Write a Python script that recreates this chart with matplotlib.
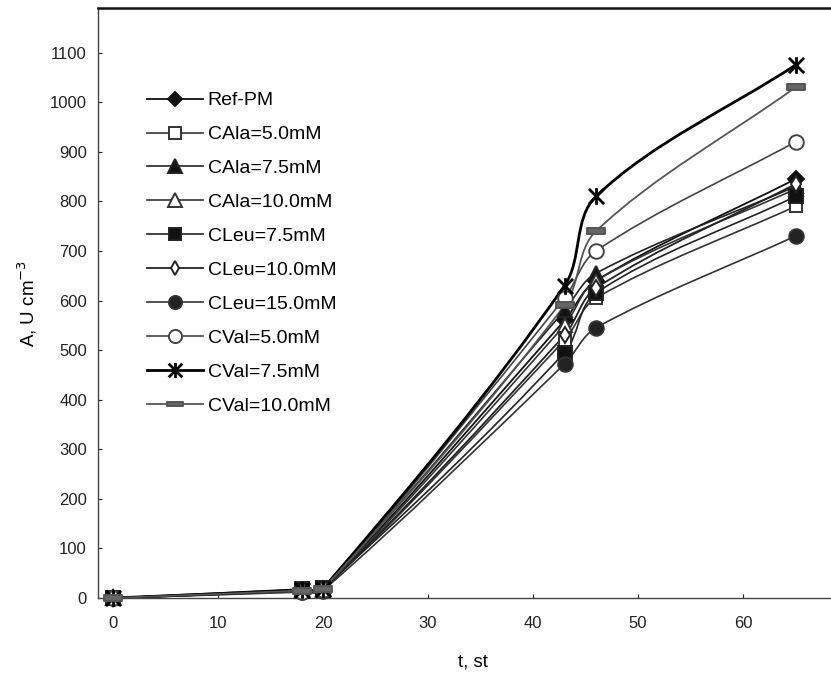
import numpy as np
import matplotlib
matplotlib.use("Agg")
import matplotlib.pyplot as plt
from matplotlib.path import Path
from matplotlib.patches import PathPatch
from matplotlib.lines import Line2D

plt.rcParams['font.family'] = ['Liberation Sans', 'DejaVu Sans']

t = [0, 18, 20, 43, 46, 65]
labels = ["Ref-PM", "CAla=5.0mM", "CAla=7.5mM", "CAla=10.0mM", "CLeu=7.5mM",
          "CLeu=10.0mM", "CLeu=15.0mM", "CVal=5.0mM", "CVal=7.5mM", "CVal=10.0mM"]
ref_pm   = [0, 15, 18, 560, 640, 845]
cala_5   = [0, 14, 16, 520, 605, 790]
cala_75  = [0, 16, 19, 580, 655, 830]
cala_10  = [0, 15, 17, 550, 640, 825]
cleu_75  = [0, 18, 20, 495, 615, 810]
cleu_10  = [0, 14, 17, 530, 625, 835]
cleu_15  = [0, 12, 15, 472, 545, 730]
cval_5   = [0, 13, 16, 605, 700, 920]
cval_75  = [0, 16, 19, 630, 810, 1075]
cval_10  = [0, 15, 18, 590, 740, 1030]
series = [ref_pm, cala_5, cala_75, cala_10, cleu_75, cleu_10, cleu_15, cval_5, cval_75, cval_10]

star = Path([(-1, -1), (1, 1), (-1, 1), (1, -1), (0, -1.1), (0, 1.1)],
            [Path.MOVETO, Path.LINETO, Path.MOVETO, Path.LINETO, Path.MOVETO, Path.LINETO])
dash = Path([(-1, -0.3), (1, -0.3), (1, 0.3), (-1, 0.3), (-1, -0.3)],
            [Path.MOVETO, Path.LINETO, Path.LINETO, Path.LINETO, Path.CLOSEPOLY])

styles = [
    dict(color='#111111', marker='D', mfc='#111111', ms=8, lw=1.3),
    dict(color='#333333', marker='s', mfc='white', ms=9, lw=1.2),
    dict(color='#222222', marker='^', mfc='#111111', ms=10.5, lw=1.2),
    dict(color='#333333', marker='^', mfc='white', ms=10.5, lw=1.2),
    dict(color='#222222', marker='s', mfc='#111111', ms=10, lw=1.2),
    dict(color='#222222', marker='d', mfc='white', ms=8, lw=1.3),
    dict(color='#333333', marker='o', mfc='#222222', ms=10.5, lw=1.2),
    dict(color='#444444', marker='o', mfc='white', ms=10.5, lw=1.2),
    dict(color='#000000', marker=star, mfc='none', ms=12, lw=2.0),
    dict(color='#555555', marker=dash, mfc='#666666', ms=13, lw=1.3),
]

fig = plt.figure(figsize=(8.31, 6.81), dpi=100)
ax = fig.add_axes([98/831, 1-598/681, (848-98)/831, (598-8)/681])
ax.set_xlim(-1.43, 70)
ax.set_ylim(0, 1190)

def smooth_path(x, y):
    pts = ax.transData.transform(np.column_stack([x, y]))
    n = len(pts)
    verts = [pts[0]]
    codes = [Path.MOVETO]
    def tangent(i):
        a = pts[max(i - 1, 0)]
        b = pts[min(i + 1, n - 1)]
        d = b - a
        nrm = np.hypot(*d)
        return d / nrm if nrm > 0 else d
    for i in range(n - 1):
        p0, p1 = pts[i], pts[i + 1]
        L = np.hypot(*(p1 - p0))
        c1 = p0 + tangent(i) * L / 3
        c2 = p1 - tangent(i + 1) * L / 3
        verts += [c1, c2, p1]
        codes += [Path.CURVE4] * 3
    verts = ax.transData.inverted().transform(np.array(verts))
    return Path(verts, codes)

handles = []
for lab, vals, st in zip(labels, series, styles):
    p = smooth_path(t, vals)
    ax.add_patch(PathPatch(p, facecolor='none', edgecolor=st['color'], lw=st['lw'], zorder=2))
    mew = 2.0 if st['marker'] is star else 1.4
    ax.plot(t, vals, linestyle='none', marker=st['marker'], ms=st['ms'],
            mfc=st['mfc'], mec=st['color'], mew=mew, zorder=3, clip_on=False)
    handles.append(Line2D([], [], color=st['color'], lw=st['lw'], marker=st['marker'],
                          ms=st['ms'] * 0.9, mfc=st['mfc'], mec=st['color'], mew=mew))

ax.set_xticks(range(0, 70, 10))
ax.set_yticks(range(0, 1200, 100))
ax.tick_params(direction='in', length=3, labelsize=12, colors='#222222')
ax.tick_params(axis='x', pad=13)
ax.tick_params(axis='y', pad=8)
for s in ['left', 'bottom', 'top']:
    ax.spines[s].set_color('#444444')
    ax.spines[s].set_linewidth(1.0)
ax.spines['top'].set_linewidth(1.8)
ax.spines['top'].set_color('#111111')
ax.spines['right'].set_visible(False)

ax.set_xlabel('t, st', fontsize=13.5, labelpad=16)
ax.set_ylabel('A, U cm$^{-3}$', fontsize=13.5, labelpad=8)

leg = ax.legend(handles, labels, loc='upper left', bbox_to_anchor=(0.065, 0.858),
                frameon=False, fontsize=14, handlelength=2.88, handletextpad=0.26,
                labelspacing=0.84, borderpad=0, borderaxespad=0)

fig.savefig('out.png', dpi=100)
